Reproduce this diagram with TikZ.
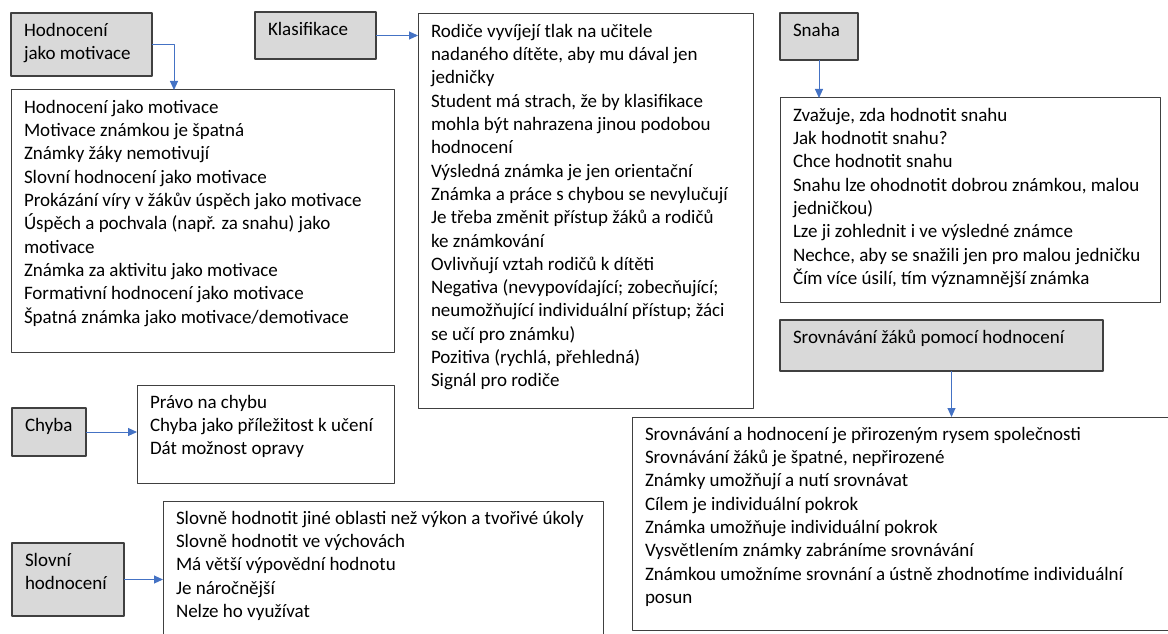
\documentclass[tikz,border=0pt]{standalone}
\usepackage{fontspec}
\setmainfont{Carlito}
\usetikzlibrary{arrows.meta}
\definecolor{boxline}{HTML}{404040}
\definecolor{headgray}{HTML}{D9D9D9}
\definecolor{linkblue}{HTML}{4472C4}
% text block of a box: width, height, lines
\newcommand{\boxtext}[3]{\parbox[t][#2][t]{#1}{\begin{tabular}[t]{@{}l@{}}#3\end{tabular}}}

\begin{document}
\begin{tikzpicture}[x=1pt,y=-1pt,line join=round,
	every node/.style={font=\fontsize{19}{23.3}\selectfont,anchor=north west,inner xsep=13pt,inner ysep=7pt,outer sep=0pt},
	headbox/.style={draw=boxline,fill=headgray,line width=1.2pt},
	listbox/.style={draw=boxline,fill=white,line width=1pt},
	link/.style={draw=linkblue,line width=1pt,-{Triangle[length=9pt,width=8pt]}}]
	\useasboundingbox (0,0) rectangle (1168,634);
	\clip (0,0) rectangle (1168,634);
	% headers
	\node[headbox] (hmot) at (11,13) {\boxtext{115pt}{49pt}{Hodnocení\\jako motivace}};
	\node[headbox] (hklas) at (255,12) {\boxtext{95pt}{33pt}{Klasifikace}};
	\node[headbox] (hsnaha) at (780,13) {\boxtext{52pt}{33pt}{Snaha}};
	\node[headbox] (hsrov) at (780,320) {\boxtext{297pt}{37pt}{Srovnávání žáků pomocí hodnocení}};
	\node[headbox] (hchyba) at (12,408) {\boxtext{48pt}{34pt}{Chyba}};
	\node[headbox] (hslovni) at (12,543) {\boxtext{86pt}{59pt}{Slovní\\hodnocení}};
	% lists
	\node[listbox] (motlist) at (11,90) {\boxtext{357pt}{248pt}{Hodnocení jako motivace\\
		Motivace známkou je špatná\\
		Známky žáky nemotivují\\
		Slovní hodnocení jako motivace\\
		Prokázání víry v žákův úspěch jako motivace\\
		Úspěch a pochvala (např. za snahu) jako\\
		motivace\\
		Známka za aktivitu jako motivace\\
		Formativní hodnocení jako motivace\\
		Špatná známka jako motivace/demotivace}};
	\node[listbox] (klaslist) at (418,14) {\boxtext{309pt}{380pt}{Rodiče vyvíjejí tlak na učitele\\
		nadaného dítěte, aby mu dával jen\\
		jedničky\\
		Student má strach, že by klasifikace\\
		mohla být nahrazena jinou podobou\\
		hodnocení\\
		Výsledná známka je jen orientační\\
		Známka a práce s chybou se nevylučují\\
		Je třeba změnit přístup žáků a rodičů\\
		ke známkování\\
		Ovlivňují vztah rodičů k dítěti\\
		Negativa (nevypovídající; zobecňující;\\
		neumožňující individuální přístup; žáci\\
		se učí pro známku)\\
		Pozitiva (rychlá, přehledná)\\
		Signál pro rodiče}};
	\node[listbox] (snahalist) at (780,98) {\boxtext{354pt}{190pt}{Zvažuje, zda hodnotit snahu\\
		Jak hodnotit snahu?\\
		Chce hodnotit snahu\\
		Snahu lze ohodnotit dobrou známkou, malou\\
		jedničkou)\\
		Lze ji zohlednit i ve výsledné známce\\
		Nechce, aby se snažili jen pro malou jedničku\\
		Čím více úsilí, tím významnější známka}};
	\node[listbox] (srovlist) at (632,417) {\boxtext{534pt}{199pt}{Srovnávání a hodnocení je přirozeným rysem společnosti\\
		Srovnávání žáků je špatné, nepřirozené\\
		Známky umožňují a nutí srovnávat\\
		Cílem je individuální pokrok\\
		Známka umožňuje individuální pokrok\\
		Vysvětlením známky zabráníme srovnávání\\
		Známkou umožníme srovnání a ústně zhodnotíme individuální\\
		posun}};
	\node[listbox] (chybalist) at (137,385) {\boxtext{231pt}{84pt}{Právo na chybu\\
		Chyba jako příležitost k učení\\
		Dát možnost opravy}};
	\node[listbox] (slovlist) at (163,501) {\boxtext{414pt}{146pt}{Slovně hodnotit jiné oblasti než výkon a tvořivé úkoly\\
		Slovně hodnotit ve výchovách\\
		Má větší výpovědní hodnotu\\
		Je náročnější\\
		Nelze ho využívat}};
	% links
	\draw[link] (hmot.east) -| ([xshift=163pt]motlist.north west);
	\draw[link] (hklas.east) -- (hklas.east -| klaslist.west);
	\draw[link] (hsnaha.south) -- (hsnaha.south |- snahalist.north);
	\draw[link] ([xshift=10pt]hsrov.south) -- ([xshift=10pt]hsrov.south |- srovlist.north);
	\draw[link] (hchyba.east) -- (hchyba.east -| chybalist.west);
	\draw[link] (hslovni.east) -- (hslovni.east -| slovlist.west);
\end{tikzpicture}
\end{document}
